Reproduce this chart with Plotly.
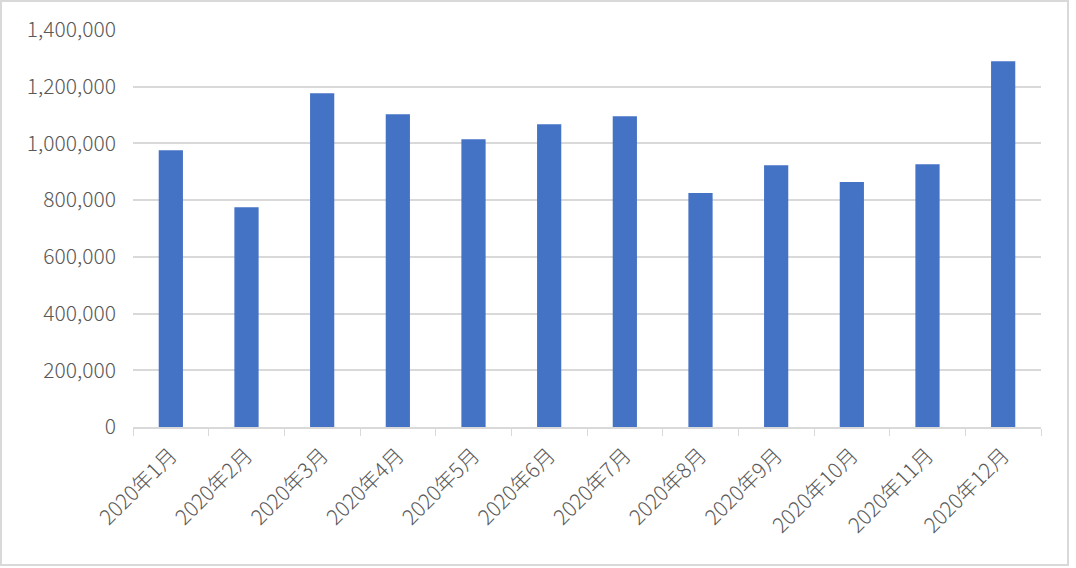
import plotly.graph_objects as go

months = ["2020年1月", "2020年2月", "2020年3月", "2020年4月", "2020年5月", "2020年6月",
          "2020年7月", "2020年8月", "2020年9月", "2020年10月", "2020年11月", "2020年12月"]
values = [976000, 775000, 1177000, 1103000, 1015000, 1068000,
          1096000, 825000, 923000, 864000, 927000, 1290000]
y_ticks = [0, 200000, 400000, 600000, 800000, 1000000, 1200000, 1400000]

W, H = 1076, 568
L, R, T, B = 133, 35, 30, 141
pw, ph = W - L - R, H - T - B

fig = go.Figure()
fig.add_trace(go.Bar(x=months, y=values, marker=dict(color="#4472C4", line=dict(width=0))))

fig.update_layout(
    width=W, height=H,
    margin=dict(l=L, r=R, t=T, b=B),
    paper_bgcolor="white", plot_bgcolor="white",
    font=dict(family="Noto Sans CJK SC", color="#595959", weight=300),
    bargap=0.68,
    showlegend=False,
    # light grey frame around the whole chart
    shapes=[dict(type="rect", xref="paper", yref="paper",
                 x0=(1 - L) / pw, x1=(1068 - L) / pw,
                 y0=(T + ph - 565) / ph, y1=(T + ph - 1) / ph,
                 line=dict(color="#D9D9D9", width=2), layer="below")],
)
fig.update_xaxes(
    tickangle=-45, tickfont=dict(size=21, color="#595959", weight=300),
    tickson="boundaries", ticks="outside", ticklen=7, tickcolor="#D9D9D9",
    showline=True, linecolor="#D9D9D9", linewidth=1.5, showgrid=False,
    ticklabelstandoff=6,
)
fig.update_yaxes(
    range=[0, 1400000], tickvals=y_ticks, tickformat=",d",
    tickfont=dict(size=21, color="#595959", weight=300),
    showgrid=True, gridcolor="#D9D9D9", gridwidth=1.5, zeroline=False,
    ticklabelstandoff=16,
)

fig.write_html("out.html", config={"displayModeBar": False},
               post_script="document.body.style.margin='0';")
